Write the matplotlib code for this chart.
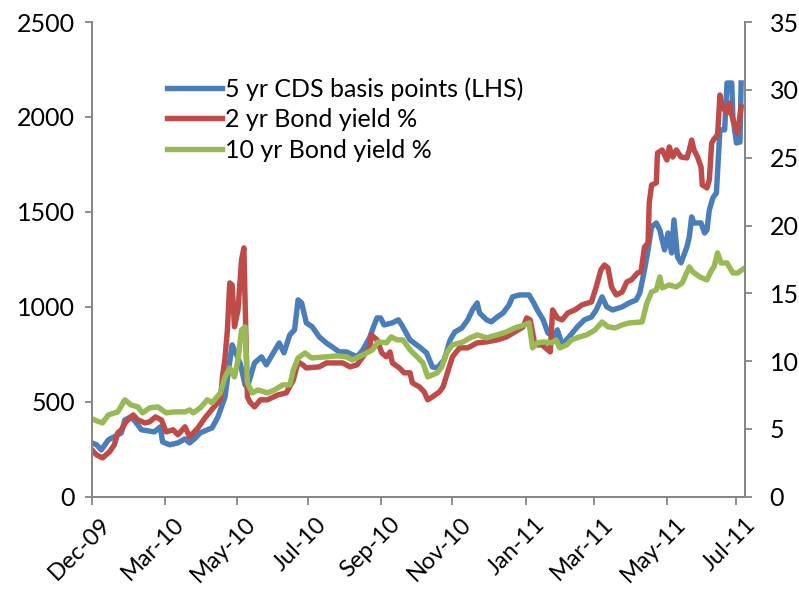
import matplotlib
matplotlib.use("Agg")
import matplotlib.pyplot as plt
import matplotlib.dates as mdates
import matplotlib.transforms as mtransforms
import pandas as pd

plt.rcParams['font.family'] = ['Lato', 'DejaVu Sans']

# days counted from 31 Dec 2009
start = pd.Timestamp('2009-12-31')

cds_days = [0, 4, 8, 14, 22, 25, 28, 33, 37, 42, 53, 58, 60, 66, 73, 79, 83, 87, 92, 98,
            102, 107, 113, 116, 119, 122, 126, 130, 132, 138, 144, 148, 154, 159, 163, 168,
            172, 175, 178, 182, 187, 193, 199, 204, 210, 216, 225, 230, 236, 239, 242, 245,
            248, 255, 260, 263, 270, 278, 284, 289, 293, 299, 304, 308, 314, 319, 323, 327,
            329, 335, 339, 344, 349, 354, 357, 363, 367, 371, 375, 378, 383, 387, 393, 395,
            397, 399, 405, 412, 418, 424, 428, 433, 437, 442, 450, 456, 462, 465, 469, 472,
            475, 479, 482, 486, 489, 492, 494, 497, 500, 505, 507, 509, 511, 517, 520, 522,
            524, 527, 530, 533, 537, 539, 543, 544, 547, 550, 551]
cds_bp = [284, 274, 247, 300, 326, 337, 405, 421, 395, 353, 342, 368, 289, 274, 284, 305,
          284, 305, 337, 353, 363, 421, 526, 668, 800, 760, 700, 590, 579, 705, 737, 695,
          758, 810, 758, 853, 879, 1037, 1021, 916, 895, 842, 810, 789, 763, 763, 737, 774,
          842, 895, 942, 942, 905, 916, 932, 905, 826, 789, 758, 684, 679, 721, 826, 868,
          889, 932, 984, 1021, 968, 932, 921, 947, 968, 1010, 1053, 1063, 1063, 1063, 1021,
          984, 932, 863, 842, 879, 842, 800, 842, 895, 932, 947, 984, 1053, 1000, 984, 1000,
          1021, 1037, 1074, 1195, 1300, 1421, 1442, 1405, 1300, 1389, 1284, 1458, 1263,
          1232, 1316, 1368, 1474, 1442, 1442, 1389, 1405, 1510, 1574, 1600, 1932, 1932,
          2179, 2179, 2000, 1863, 1868, 2179]

y2_days = [0, 4, 9, 15, 19, 22, 25, 29, 35, 39, 45, 49, 54, 59, 63, 69, 73, 79, 83, 90,
           96, 103, 109, 111, 113, 115, 117, 119, 121, 124, 127, 129, 130, 132, 134, 138,
           143, 149, 158, 165, 171, 175, 179, 182, 193, 199, 213, 219, 225, 230, 236, 237,
           242, 246, 250, 253, 255, 261, 265, 270, 272, 278, 282, 285, 289, 295, 298, 302,
           306, 312, 319, 327, 335, 344, 352, 359, 366, 369, 372, 376, 382, 387, 389, 391,
           395, 399, 404, 410, 416, 424, 428, 432, 435, 438, 441, 445, 450, 454, 458, 463,
           466, 469, 472, 473, 475, 479, 480, 484, 488, 490, 493, 496, 500, 505, 507, 509,
           511, 514, 517, 518, 522, 524, 526, 528, 531, 533, 535, 539, 541, 544, 548, 551]
y2_pct = [3.46, 3.09, 2.87, 3.32, 3.83, 4.72, 4.94, 5.53, 6.04, 5.67, 5.45, 5.53, 5.89,
          5.67, 4.79, 4.94, 4.57, 5.16, 4.42, 5.08, 5.82, 6.56, 7.15, 8.99, 10.24, 12.30,
          15.77, 15.62, 12.53, 13.78, 17.46, 18.35, 14.5, 7.37, 7.0, 6.63, 7.15, 7.15, 7.52,
          7.66, 8.62, 9.95, 9.73, 9.50, 9.58, 9.87, 9.87, 9.58, 9.73, 10.32, 11.05, 11.94,
          11.57, 10.61, 10.32, 10.68, 9.87, 9.50, 9.14, 9.14, 8.40, 8.10, 7.74, 7.15, 7.37,
          7.74, 8.10, 9.21, 10.32, 10.98, 10.98, 11.35, 11.42, 11.57, 11.79, 12.16, 12.53,
          13.19, 13.04, 11.2, 11.2, 10.83, 10.68, 13.78, 13.19, 13.04, 13.56, 13.78, 14.15,
          14.37, 15.47, 16.73, 17.09, 16.87, 15.47, 14.88, 15.10, 15.84, 16.0, 16.50, 16.58,
          18.42, 18.71, 21.66, 22.99, 23.14, 25.35, 25.57, 24.83, 25.79, 25.05, 25.57, 25.05,
          24.98, 25.57, 26.30, 25.57, 25.05, 24.31, 22.99, 22.77, 23.36, 26.08, 26.38, 26.67,
          29.62, 28.74, 28.29, 29.03, 27.78, 26.82, 28.74]

y10_days = [0, 4, 9, 14, 22, 28, 33, 39, 43, 49, 56, 63, 70, 79, 83, 86, 92, 98, 102, 109,
            113, 117, 121, 124, 127, 130, 132, 136, 141, 149, 155, 162, 168, 171, 175, 181,
            185, 187, 199, 208, 216, 221, 230, 238, 243, 250, 254, 259, 264, 270, 276, 281,
            285, 293, 297, 301, 306, 315, 321, 327, 335, 344, 352, 359, 367, 371, 374, 378,
            384, 390, 394, 397, 403, 407, 414, 420, 427, 433, 438, 444, 450, 456, 467, 471,
            475, 479, 482, 484, 490, 496, 501, 507, 510, 516, 522, 526, 528, 531, 534, 539,
            544, 548, 554]
y10_pct = [5.75, 5.6, 5.45, 6.04, 6.26, 7.15, 6.78, 6.63, 6.19, 6.56, 6.63, 6.19, 6.26,
           6.26, 6.41, 6.19, 6.56, 7.15, 6.93, 7.66, 8.84, 9.50, 8.84, 10.09, 12.30, 12.53,
           8.40, 7.66, 7.88, 7.66, 7.88, 8.25, 8.25, 9.36, 10.24, 10.61, 10.32, 10.24, 10.32,
           10.39, 10.32, 10.09, 10.46, 10.83, 11.42, 11.35, 11.79, 11.57, 11.57, 10.83, 10.32,
           9.87, 8.84, 9.14, 9.58, 10.61, 11.2, 11.42, 11.72, 11.94, 11.72, 11.94, 12.16,
           12.45, 12.67, 12.82, 10.98, 11.35, 11.42, 11.35, 11.57, 10.98, 11.2, 11.57, 11.79,
           11.94, 12.30, 12.89, 12.53, 12.45, 12.67, 12.82, 12.89, 14.29, 15.10, 15.25, 16.21,
           15.40, 15.62, 15.47, 15.77, 16.95, 16.58, 16.21, 15.99, 16.73, 16.95, 17.98, 17.24,
           17.24, 16.50, 16.50, 16.87]

tick_dates = ['2009-12-31', '2010-03-03', '2010-05-03', '2010-07-02', '2010-09-02',
              '2010-11-02', '2011-01-03', '2011-03-02', '2011-05-03', '2011-07-01']


def to_dates(days):
    return start + pd.to_timedelta(days, unit='D')


blue = '#4A7EBB'
red = '#BE4B48'
green = '#98B954'
axis_grey = '#868686'
fs = 18

fig = plt.figure(figsize=(7.99, 5.95), dpi=100)
ax = fig.add_axes([0.115, 0.165, 0.817, 0.798])
ax2 = ax.twinx()

l1, = ax.plot(to_dates(cds_days), cds_bp, color=blue, lw=3.9,
              solid_joinstyle='round', label='5 yr CDS basis points (LHS)')
l2, = ax2.plot(to_dates(y2_days), y2_pct, color=red, lw=3.9,
               solid_joinstyle='round', label='2 yr Bond yield %')
l3, = ax2.plot(to_dates(y10_days), y10_pct, color=green, lw=3.9,
               solid_joinstyle='round', label='10 yr Bond yield %')

ax.set_ylim(0, 2500)
ax.set_yticks(range(0, 2501, 500))
ax2.set_ylim(0, 35)
ax2.set_yticks(range(0, 36, 5))
ax.set_xlim(start, start + pd.Timedelta(days=554))
ax.set_xticks(pd.to_datetime(tick_dates))
ax.xaxis.set_major_formatter(mdates.DateFormatter('%b-%y'))

for a in (ax, ax2):
    a.spines['top'].set_visible(False)
    for side in ('left', 'right', 'bottom'):
        a.spines[side].set_color(axis_grey)
        a.spines[side].set_linewidth(1.3)
    a.tick_params(colors=axis_grey, labelcolor='black', labelsize=fs,
                  length=5, width=1.3, direction='out')

ax.tick_params(axis='y', pad=7)
ax2.tick_params(axis='y', pad=13)
ax.tick_params(axis='x', pad=6, length=6, labelsize=17)
shift = mtransforms.ScaledTranslation(6 / 72, 0, fig.dpi_scale_trans)
for lab in ax.get_xticklabels():
    lab.set_rotation(45)
    lab.set_ha('right')
    lab.set_va('top')
    lab.set_rotation_mode('anchor')
    lab.set_transform(lab.get_transform() + shift)

leg = ax2.legend(handles=[l1, l2, l3], loc='upper left', frameon=False,
                 bbox_to_anchor=(0.1, 0.905), fontsize=fs, handlelength=2.2,
                 handletextpad=0.1, labelspacing=0.3, borderaxespad=0)

fig.savefig('out.png', dpi=100)
